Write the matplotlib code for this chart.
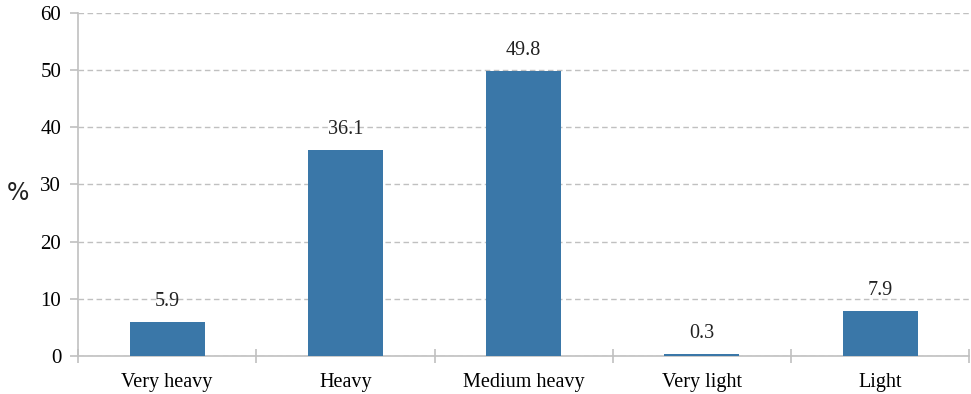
import matplotlib
matplotlib.use("Agg")
import matplotlib.pyplot as plt

categories = ["Very heavy", "Heavy", "Medium heavy", "Very light", "Light"]
values = [5.9, 36.1, 49.8, 0.3, 7.9]
yticks = [0, 10, 20, 30, 40, 50, 60]

bar_color = "#3a77a8"
axis_gray = "#c0c0c0"
serif = "Liberation Serif"

fig = plt.figure(figsize=(9.71, 3.94), dpi=100)
ax = fig.add_axes([0.0803, 0.0964, 0.918, 0.871])

x = range(len(categories))
ax.bar(x, values, width=0.42, color=bar_color, zorder=3)

for xi, v in zip(x, values):
    ax.text(xi, v + 1.9, f"{v:.1f}", ha="center", va="bottom",
            fontsize=14.5, family=serif, color="#222222")

ax.set_xlim(-0.5, len(categories) - 0.5)
ax.set_ylim(0, 60)
ax.set_yticks(yticks)
ax.set_yticklabels([str(t) for t in yticks], family=serif, fontsize=15)
ax.yaxis.grid(True, linestyle=(0, (4, 2.5)), color=axis_gray, linewidth=1.0, zorder=0)

ax.set_xticks([i + 0.5 for i in range(-1, len(categories))])
ax.set_xticklabels([])
ax.set_xticks(list(x), minor=True)
ax.set_xticklabels(categories, minor=True, family=serif, fontsize=14.5)
ax.tick_params(axis="x", which="minor", length=0, pad=12)
ax.tick_params(axis="x", which="major", direction="inout", length=10, color=axis_gray, width=1.2)
ax.tick_params(axis="y", length=6, color=axis_gray, width=1.2, pad=6)

for side in ["top", "right"]:
    ax.spines[side].set_visible(False)
for side in ["left", "bottom"]:
    ax.spines[side].set_color(axis_gray)
    ax.spines[side].set_linewidth(1.2)

fig.text(18 / 971, 1 - 193 / 394, "%", fontsize=17, family="DejaVu Sans",
         ha="center", va="center", color="#222222")

fig.savefig("out.png", dpi=100)
